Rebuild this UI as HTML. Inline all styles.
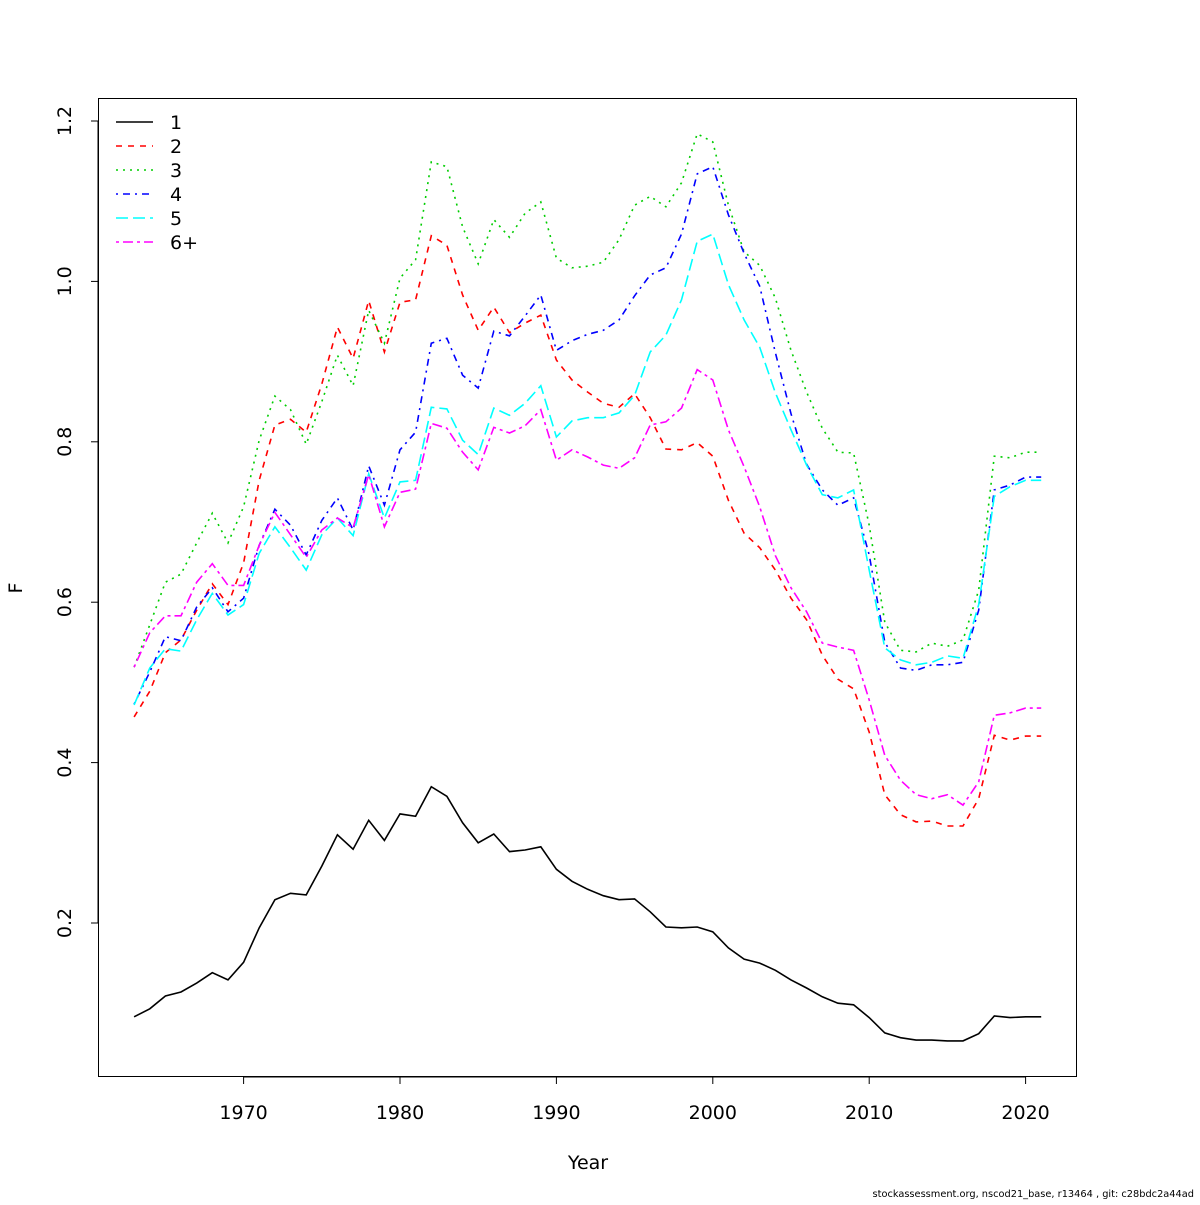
<!DOCTYPE html>
<html><head><meta charset="utf-8"><style>
body{margin:0;background:#fff;}
svg text{font-family:"DejaVu Sans","Liberation Sans",sans-serif;}
</style></head><body>
<svg id="chart" width="1200" height="1200" viewBox="0 0 1200 1200" xmlns="http://www.w3.org/2000/svg">
<rect x="0" y="0" width="1200" height="1200" fill="#fff"/>
<rect x="98.5" y="98.5" width="978" height="978" fill="none" stroke="#000" stroke-width="1"/>
<g id="xaxis"></g>
<g id="yaxis"></g>
<g id="series"></g>
<g id="legend"></g>
<text x="588" y="1169" font-size="19" text-anchor="middle">Year</text>
<text x="22" y="588" font-size="19" text-anchor="middle" transform="rotate(-90 22 588)">F</text>
<text x="1194" y="1197" font-size="9.8" text-anchor="end">stockassessment.org, nscod21_base, r13464 , git: c28bdc2a44ad</text>
</svg>
<script>
const years = [];
for (let y = 1963; y <= 2021; y++) years.push(y);
const f1 = [0.083,0.093,0.109,0.114,0.125,0.138,0.129,0.151,0.194,0.229,0.237,0.235,0.271,0.310,0.292,0.328,0.303,0.336,0.333,0.370,0.358,0.325,0.300,0.311,0.289,0.291,0.295,0.267,0.252,0.242,0.234,0.229,0.230,0.214,0.195,0.194,0.195,0.189,0.169,0.155,0.150,0.141,0.129,0.119,0.108,0.100,0.098,0.082,0.063,0.057,0.054,0.054,0.053,0.053,0.062,0.084,0.082,0.083,0.083];
const f2 = [0.457,0.489,0.537,0.553,0.590,0.623,0.597,0.649,0.752,0.821,0.828,0.812,0.872,0.943,0.904,0.976,0.912,0.974,0.977,1.057,1.045,0.983,0.939,0.968,0.936,0.948,0.958,0.902,0.877,0.862,0.848,0.843,0.860,0.830,0.791,0.790,0.799,0.782,0.727,0.686,0.668,0.640,0.605,0.578,0.534,0.504,0.492,0.438,0.360,0.335,0.326,0.327,0.321,0.321,0.355,0.434,0.428,0.433,0.433];
const f3 = [0.519,0.572,0.625,0.635,0.674,0.711,0.674,0.719,0.802,0.857,0.840,0.797,0.850,0.908,0.870,0.964,0.923,1.004,1.027,1.149,1.143,1.068,1.022,1.077,1.055,1.085,1.099,1.029,1.017,1.019,1.024,1.052,1.095,1.106,1.093,1.123,1.184,1.174,1.095,1.037,1.020,0.979,0.914,0.862,0.817,0.787,0.786,0.696,0.575,0.540,0.538,0.549,0.545,0.553,0.615,0.782,0.780,0.787,0.787];
const f4 = [0.473,0.513,0.557,0.552,0.594,0.618,0.588,0.605,0.671,0.716,0.696,0.659,0.702,0.730,0.690,0.770,0.721,0.790,0.812,0.923,0.929,0.883,0.867,0.938,0.932,0.957,0.983,0.914,0.926,0.934,0.939,0.952,0.982,1.008,1.017,1.059,1.134,1.143,1.083,1.035,0.994,0.911,0.835,0.772,0.740,0.721,0.730,0.659,0.550,0.518,0.515,0.522,0.522,0.525,0.590,0.740,0.746,0.756,0.756];
const f5 = [0.472,0.518,0.542,0.539,0.578,0.611,0.584,0.597,0.661,0.694,0.668,0.640,0.684,0.705,0.683,0.760,0.705,0.750,0.752,0.843,0.841,0.802,0.784,0.842,0.833,0.848,0.870,0.806,0.826,0.830,0.830,0.836,0.858,0.912,0.933,0.977,1.050,1.059,0.996,0.952,0.918,0.861,0.815,0.771,0.734,0.730,0.740,0.640,0.543,0.528,0.522,0.525,0.533,0.530,0.597,0.732,0.744,0.752,0.752];
const f6 = [0.519,0.562,0.583,0.583,0.625,0.648,0.621,0.621,0.671,0.712,0.684,0.656,0.690,0.705,0.693,0.759,0.694,0.737,0.741,0.823,0.817,0.787,0.765,0.818,0.811,0.820,0.840,0.777,0.790,0.781,0.771,0.767,0.780,0.821,0.825,0.842,0.890,0.877,0.815,0.769,0.719,0.658,0.618,0.588,0.549,0.544,0.540,0.478,0.409,0.378,0.360,0.355,0.360,0.347,0.376,0.459,0.462,0.468,0.468];
const seriesLabels = ["1","2","3","4","5","6+"];
const xTicks = [1970,1980,1990,2000,2010,2020];
const yTicks = [0.2,0.4,0.6,0.8,1.0,1.2];
const yTickLabels = ["0.2","0.4","0.6","0.8","1.0","1.2"];

const NS = "http://www.w3.org/2000/svg";
function xs(yr){ return 243.6 + (yr - 1970) * 15.64; }
function ys(v){ return 923 - (v - 0.2) * 802; }
function mk(tag, attrs, parent){ const e = document.createElementNS(NS, tag); for (const k in attrs) e.setAttribute(k, attrs[k]); parent.appendChild(e); return e; }

const xa = document.getElementById('xaxis');
mk('line', {x1: xs(xTicks[0]), x2: xs(xTicks[xTicks.length-1]), y1: 1077, y2: 1077, stroke: '#000'}, xa);
xTicks.forEach(t => {
  const l = mk('line', {x1: xs(t), x2: xs(t), y1: 1077, y2: 1084, stroke: '#000'}, xa);
  
  
  const tx = mk('text', {x: xs(t), y: 1119, 'font-size': 19, 'text-anchor': 'middle'}, xa);
  tx.textContent = t;
  
  
});
const ya = document.getElementById('yaxis');
mk('line', {x1: 98, x2: 98, y1: ys(yTicks[0]), y2: ys(yTicks[yTicks.length-1]), stroke: '#000'}, ya);
yTicks.forEach((t, i) => {
  const l = mk('line', {x1: 91, x2: 98, y1: ys(t), y2: ys(t), stroke: '#000'}, ya);
  
  
  const tx = mk('text', {x: 71, y: ys(t), 'font-size': 19, 'text-anchor': 'middle', transform: 'rotate(-90 71 ' + ys(t) + ')'}, ya);
  tx.textContent = yTickLabels[i];
  
  
});

const allSeries = [f1, f2, f3, f4, f5, f6];
const colors = ['#000000', '#ff0000', '#00cd00', '#0000ff', '#00ffff', '#ff00ff'];
const dashes = ['', '6 6', '2 5', '2 5 7 5', '12 5', '3 4 10 4'];
const sg = document.getElementById('series');
allSeries.forEach((s, i) => {
  const pts = s.map((v, j) => xs(years[j]).toFixed(1) + ',' + ys(v).toFixed(1)).join(' ');
  const p = mk('polyline', {points: pts, fill: 'none', stroke: colors[i], 'stroke-width': 1.6, 'stroke-dasharray': dashes[i]}, sg);
  
  
});
const lg = document.getElementById('legend');
seriesLabels.forEach((lab, i) => {
  const y = 122 + i * 24;
  const l = mk('line', {x1: 116, x2: 153, y1: y, y2: y, stroke: colors[i], 'stroke-width': 1.6, 'stroke-dasharray': dashes[i]}, lg);
  
  
  const t = mk('text', {x: 170, y: y + 7, 'font-size': 19}, lg);
  t.textContent = lab;
  
  
});
</script>
</body></html>
